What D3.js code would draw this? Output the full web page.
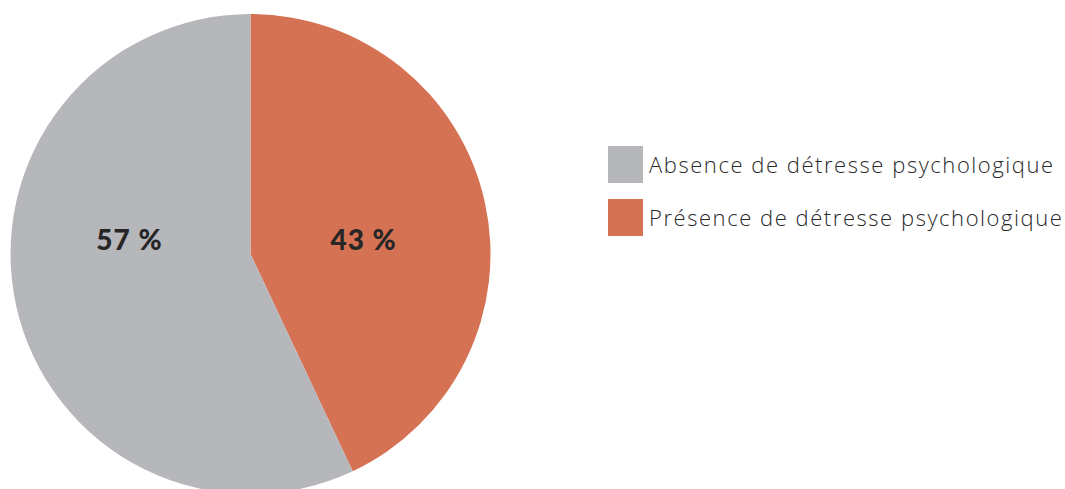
<!DOCTYPE html>
<html>
<head>
<meta charset="utf-8">
<script src="https://cdn.jsdelivr.net/npm/d3@7"></script>
<style>
  body { margin: 0; background: #fff; }
  svg { display: block; }
</style>
</head>
<body>
<script>
const width = 1065;
const height = 489;

const categories = ["Présence de détresse psychologique", "Absence de détresse psychologique"];
const values = [43, 57];
const colors = ["#d67254", "#b6b7bb"];
const legendOrder = ["Absence de détresse psychologique", "Présence de détresse psychologique"];

const cx = 250.5, cy = 254, radius = 240;

let data = categories.map((c, i) => ({name: c, value: values[i], color: colors[i]}));

let svg = d3.select("body")
    .append("svg")
    .attr("width", width)
    .attr("height", height);

let pie = d3.pie()
    .sort(null)
    .value(d => d.value);

let arc = d3.arc()
    .innerRadius(0)
    .outerRadius(radius);

let g = svg.append("g")
    .attr("transform", `translate(${cx},${cy})`);

let slices = g.selectAll("path")
    .data(pie(data))
    .enter().append("path")
    .attr("d", arc)
    .attr("fill", d => d.data.color);

// labels sit at about half the radius
let labelArc = d3.arc().innerRadius(radius * 0.5).outerRadius(radius * 0.5);

g.selectAll("text")
    .data(pie(data))
    .enter().append("text")
    .attr("x", d => labelArc.centroid(d)[0] - 4)
    .attr("y", -4)
    .attr("text-anchor", "middle")
    .attr("font-family", "Lato, sans-serif")
    .attr("font-weight", 900)
    .attr("font-size", 28)
    .attr("letter-spacing", 1)
    .attr("fill", "#262626")
    .text(d => d.data.value + " %");

let legend = svg.append("g")
    .attr("transform", "translate(608,146)");

let items = legend.selectAll("g")
    .data(legendOrder)
    .enter().append("g")
    .attr("transform", (d, i) => `translate(0,${i * 53})`);

items.append("rect")
    .attr("width", 35)
    .attr("height", 37)
    .attr("fill", d => data.find(x => x.name === d).color);

items.append("text")
    .attr("x", 41)
    .attr("y", 27)
    .attr("font-family", "'Open Sans', sans-serif")
    .attr("font-weight", 300)
    .attr("font-size", 22)
    .attr("letter-spacing", 1.55)
    .attr("fill", "#2a2a2a")
    .text(d => d);
</script>
</body>
</html>
